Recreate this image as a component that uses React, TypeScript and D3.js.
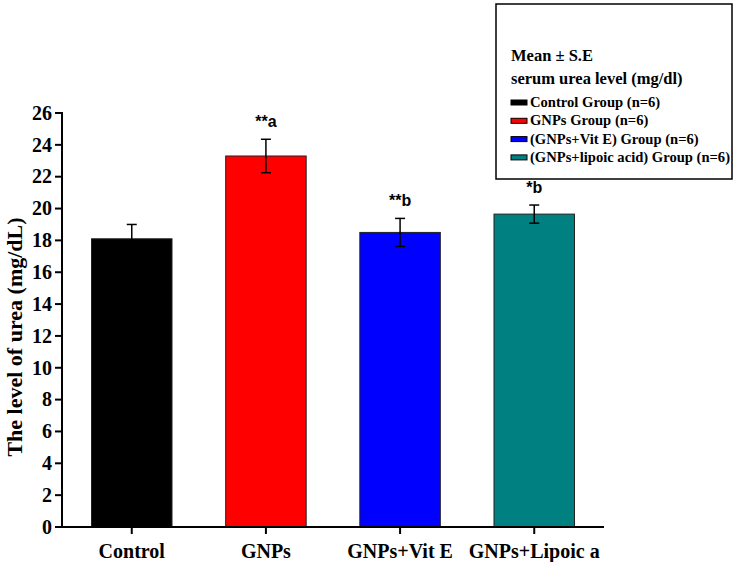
import React from "react";
import * as d3 from "d3";

const categories = ["Control", "GNPs", "GNPs+Vit E", "GNPs+Lipoic a"];
const means = [18.1, 23.3, 18.5, 19.65];
const errors = [0.9, 1.05, 0.88, 0.57];
const sigLabels = ["", "**a", "**b", "*b"];
const colors = ["#000000", "#FF0000", "#0000FF", "#008080"];
const yTicks = [0, 2, 4, 6, 8, 10, 12, 14, 16, 18, 20, 22, 24, 26];
const legendTitle = ["Mean \u00B1 S.E", "serum urea level (mg/dl)"];
const legendItems = [
  "Control Group (n=6)",
  "GNPs Group (n=6)",
  "(GNPs+Vit E) Group (n=6)",
  "(GNPs+lipoic acid) Group (n=6)",
];
const yLabel = "The level of urea (mg/dL)";

const W = 735;
const H = 562;
const serif = "'Liberation Serif', 'Times New Roman', serif";
const sans = "'Liberation Sans', Arial, sans-serif";

export default function App() {
  const x0 = 62;
  const x1 = 604;
  const y0 = 527;
  const yTop = 113;
  const x = d3
    .scaleBand<string>()
    .domain(categories)
    .range([x0, x1])
    .paddingInner(0.4)
    .paddingOuter(0.22);
  const y = d3.scaleLinear().domain([0, 26]).range([y0, yTop]);
  const bw = x.bandwidth();

  return (
    <svg
      width={W}
      height={H}
      style={{ position: "absolute", left: 0, top: 0, background: "#fff" }}
    >
      <rect x={0} y={0} width={W} height={H} fill="#fff" />
      {/* bars */}
      {categories.map((c, i) => {
        const bx = x(c)!;
        const cx = bx + bw / 2;
        const top = y(means[i]);
        const eTop = y(means[i] + errors[i]);
        const eBot = y(means[i] - errors[i]);
        return (
          <g key={c}>
            <rect
              x={bx}
              y={top}
              width={bw}
              height={y0 - top}
              fill={colors[i]}
              stroke="#222"
              strokeWidth={1}
            />
            <line x1={cx} x2={cx} y1={eTop} y2={eBot} stroke="#000" strokeWidth={1.5} />
            <line x1={cx - 5} x2={cx + 5} y1={eTop} y2={eTop} stroke="#000" strokeWidth={1.5} />
            <line x1={cx - 5} x2={cx + 5} y1={eBot} y2={eBot} stroke="#000" strokeWidth={1.5} />
            {sigLabels[i] && (
              <text
                x={cx}
                y={eTop - 12}
                textAnchor="middle"
                fontFamily={sans}
                fontWeight="bold"
                fontSize={16}
                fill="#000"
              >
                {sigLabels[i]}
              </text>
            )}
          </g>
        );
      })}
      {/* y axis */}
      <line x1={x0} x2={x0} y1={yTop - 1} y2={y0 + 1} stroke="#000" strokeWidth={2} />
      {yTicks.map((t) => (
        <g key={t}>
          <line x1={x0 - 7} x2={x0} y1={y(t)} y2={y(t)} stroke="#000" strokeWidth={2} />
          <text
            x={x0 - 10}
            y={y(t)}
            dy="0.34em"
            textAnchor="end"
            fontFamily={serif}
            fontWeight="bold"
            fontSize={20}
            fill="#000"
          >
            {t}
          </text>
        </g>
      ))}
      {/* x axis */}
      <line x1={x0 - 1} x2={x1} y1={y0} y2={y0} stroke="#000" strokeWidth={2} />
      {categories.map((c) => {
        const cx = x(c)! + bw / 2;
        return (
          <g key={"xt" + c}>
            <line x1={cx} x2={cx} y1={y0} y2={y0 + 7} stroke="#000" strokeWidth={2} />
            <text
              x={cx}
              y={558}
              textAnchor="middle"
              fontFamily={serif}
              fontWeight="bold"
              fontSize={20}
              fill="#000"
            >
              {c}
            </text>
          </g>
        );
      })}
      {/* y label */}
      <text
        transform={`translate(22, 337) rotate(-90)`}
        textAnchor="middle"
        fontFamily={serif}
        fontWeight="bold"
        fontSize={22}
        fill="#000"
      >
        {yLabel}
      </text>
      {/* legend */}
      <rect x={496} y={4} width={236} height={175} fill="#fff" stroke="#000" strokeWidth={1.5} />
      {legendTitle.map((t, i) => (
        <text
          key={t}
          x={511}
          y={61 + i * 23}
          fontFamily={serif}
          fontWeight="bold"
          fontSize={16.5}
          fill="#000"
        >
          {t}
        </text>
      ))}
      {legendItems.map((t, i) => (
        <g key={t}>
          <rect
            x={511}
            y={100 + i * 18.3}
            width={16}
            height={5}
            fill={colors[i]}
            stroke="#000"
            strokeWidth={1}
          />
          <text
            x={530}
            y={107 + i * 18.3}
            fontFamily={serif}
            fontWeight="bold"
            fontSize={14.6}
            fill="#000"
          >
            {t}
          </text>
        </g>
      ))}
    </svg>
  );
}
